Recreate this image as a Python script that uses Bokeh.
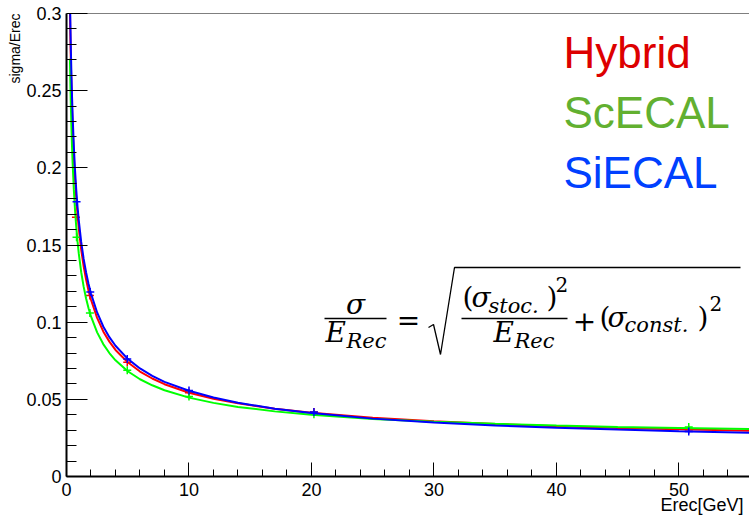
from bokeh.plotting import figure
from bokeh.models import Range1d, FixedTicker, Label, Span, BoxAnnotation, PolyAnnotation, Title
from bokeh.embed import file_html
from bokeh.resources import INLINE

# ---------------- data ----------------
curve_e = [0.28, 0.32, 0.36, 0.4, 0.45, 0.5, 0.6, 0.7, 0.8, 0.9, 1.0, 1.2, 1.4, 1.6, 1.8,
           2.0, 2.5, 3.0, 3.5, 4.0, 5.0, 6.0, 7.0, 8.0, 10, 12, 14, 17, 20, 25, 30, 35,
           40, 45, 50, 55.8]
hybrid_curve = [0.3028, 0.2833, 0.2672, 0.2536, 0.2392, 0.2270, 0.2074, 0.1922, 0.1799,
                0.1698, 0.1610, 0.1470, 0.1362, 0.1276, 0.1204, 0.1145, 0.1028, 0.0940,
                0.0874, 0.0820, 0.0740, 0.0680, 0.0635, 0.0598, 0.0543, 0.0504, 0.0474,
                0.0439, 0.0413, 0.0381, 0.0358, 0.0340, 0.0326, 0.0315, 0.0306, 0.0297]
scecal_curve = [0.2707, 0.2533, 0.2390, 0.2268, 0.2140, 0.2032, 0.1857, 0.1722, 0.1613,
                0.1523, 0.1447, 0.1324, 0.1230, 0.1153, 0.1090, 0.1037, 0.0934, 0.0858,
                0.0800, 0.0753, 0.0682, 0.0630, 0.0591, 0.0559, 0.0511, 0.0477, 0.0451,
                0.0422, 0.0400, 0.0373, 0.0355, 0.0341, 0.0330, 0.0321, 0.0314, 0.0307]
siecal_curve = [0.3120, 0.2920, 0.2755, 0.2614, 0.2465, 0.2339, 0.2137, 0.1979, 0.1853,
                0.1748, 0.1662, 0.1520, 0.1410, 0.1322, 0.1248, 0.1185, 0.1063, 0.0972,
                0.0903, 0.0847, 0.0762, 0.0700, 0.0652, 0.0613, 0.0556, 0.0512, 0.0478,
                0.0439, 0.0411, 0.0375, 0.0350, 0.0331, 0.0316, 0.0304, 0.0294, 0.0284]

hybrid_pts_e = [0.77, 1.91, 4.96, 10.0, 20.2, 50.8]
hybrid_pts = [0.168, 0.1172, 0.0740, 0.0543, 0.0418, 0.0303]
scecal_pts_e = [0.82, 1.91, 4.96, 10.0, 20.2, 50.8]
scecal_pts = [0.155, 0.106, 0.0688, 0.0519, 0.0403, 0.0320]
siecal_pts_e = [0.82, 1.94, 4.96, 10.0, 20.2, 50.8]
siecal_pts = [0.178, 0.1195, 0.0762, 0.0558, 0.0418, 0.0292]

x_ticks = [0, 10, 20, 30, 40, 50]
x_minor = [2, 4, 6, 8, 12, 14, 16, 18, 22, 24, 26, 28, 32, 34, 36, 38, 42, 44, 46, 48, 52, 54]
y_ticks = [0, 0.05, 0.1, 0.15, 0.2, 0.25, 0.3]
y_tick_labels = ["0", "0.05", "0.1", "0.15", "0.2", "0.25", "0.3"]
y_minor = [0.01, 0.02, 0.03, 0.04, 0.06, 0.07, 0.08, 0.09, 0.11, 0.12, 0.13, 0.14,
           0.16, 0.17, 0.18, 0.19, 0.21, 0.22, 0.23, 0.24, 0.26, 0.27, 0.28, 0.29]

x_title = "Erec[GeV]"
y_title = "sigma/Erec"
names = ["Hybrid", "ScECAL", "SiECAL"]
line_colors = ["#ff0000", "#00ff00", "#0000ff"]
text_colors = ["#dd0000", "#62b030", "#0040ff"]

# ---------------- figure ----------------
X_MAX = 55.76
p = figure(width=749, height=517, output_backend="svg", toolbar_location=None,
           x_range=Range1d(0, X_MAX), y_range=Range1d(0, 0.3),
           min_border_left=66, min_border_right=0, min_border_top=13, min_border_bottom=41)
p.outline_line_color = None
p.grid.visible = False
p.background_fill_color = "white"
p.border_fill_color = "white"

# pixel helpers for annotations (frame: left 66, top 13, bottom 476)
X0, SX = 66.0, 683.0 / X_MAX
Y0, SY = 476.0, 463.0 / 0.3
def dx(px):
    return (px - X0) / SX
def dy(py):
    return (Y0 - py) / SY

for ax in (p.xaxis[0], p.yaxis[0]):
    ax.axis_line_width = 2
    ax.axis_line_color = "black"
    ax.major_tick_out = 0
    ax.minor_tick_out = 0
    ax.major_tick_line_color = "black"
    ax.minor_tick_line_color = "black"
    ax.major_label_text_font = "Liberation Sans"
    ax.major_label_text_font_size = "18px"
    ax.major_label_text_color = "black"

p.xaxis.ticker = FixedTicker(ticks=x_ticks, minor_ticks=x_minor)
p.xaxis.major_tick_in = 14
p.xaxis.minor_tick_in = 7
p.xaxis.major_label_standoff = 6
p.xaxis.major_label_overrides = {t: str(t) for t in x_ticks}

p.yaxis.ticker = FixedTicker(ticks=y_ticks, minor_ticks=y_minor)
p.yaxis.major_tick_in = 21
p.yaxis.minor_tick_in = 10
p.yaxis.major_label_standoff = 5
p.yaxis.major_label_overrides = dict(zip(y_ticks, y_tick_labels))

# axis titles as side-panel titles (right / top aligned like ROOT)
p.add_layout(Title(text=x_title, align="right", vertical_align="middle",
                   text_font="Liberation Sans", text_font_size="18px",
                   text_font_style="normal", text_color="black",
                   standoff=-10, offset=6), "below")
p.add_layout(Title(text=y_title, align="right", vertical_align="middle",
                   text_font="Liberation Sans", text_font_size="14px",
                   text_font_style="normal", text_color="black",
                   standoff=0, offset=0), "left")

# top frame line
p.add_layout(Span(location=0.3, dimension="width", line_color="black", line_width=1))

# ---------------- curves and points ----------------
curves = [hybrid_curve, scecal_curve, siecal_curve]
pts_e = [hybrid_pts_e, scecal_pts_e, siecal_pts_e]
pts = [hybrid_pts, scecal_pts, siecal_pts]
for c, ce, pe, pv in zip(line_colors, curves, pts_e, pts):
    p.line(curve_e, ce, line_color=c, line_width=2)
    p.scatter(pe, pv, marker="cross", size=8, line_color=c, line_width=1.5)

# text placement helper: py is the wanted baseline in pixels
SHIFT = 0.35
def T(px, py, text, size, font, color="black", italic=False, align="left"):
    p.add_layout(Label(x=dx(px), y=dy(py - SHIFT * size), text=text, text_font=font,
                       text_font_size=f"{size}px",
                       text_font_style="italic" if italic else "normal",
                       text_align=align, text_baseline="alphabetic", text_color=color))

# ---------------- legend texts ----------------
for name, col, base in zip(names, text_colors, [67, 127, 187]):
    T(563, base, name, 44, "Liberation Sans", col)

# ---------------- formula ----------------
FF = "DejaVu Serif"
def bar(x1, x2, py):
    p.add_layout(BoxAnnotation(left=dx(x1), right=dx(x2), top=dy(py - 0.7), bottom=dy(py + 0.7),
                               fill_color="black", fill_alpha=1, line_color=None))

# left fraction
T(355, 314, "σ", 28, FF, italic=True, align="center")
bar(324, 386, 318)
T(325, 342, "E", 28, FF, italic=True)
T(346, 348, "Rec", 21, FF, italic=True)
# equals
T(408, 330, "=", 28, FF, align="center")
# radical
rx = [428, 433, 440, 454, 740, 454, 440, 433]
ry = [327, 324, 354, 267, 267, 267, 354, 324]
p.add_layout(PolyAnnotation(xs=[dx(v) for v in rx], ys=[dy(v) for v in ry],
                            fill_alpha=0, line_color="black", line_alpha=1, line_width=1.3))
# inner fraction numerator
T(462, 307, "(", 28, FF)
T(471, 307, "σ", 28, FF, italic=True)
T(488, 313, "stoc.", 21, FF, italic=True)
T(546, 307, ")", 28, FF)
T(555, 291, "2", 20, FF)
bar(461, 567, 318)
T(493, 342, "E", 28, FF, italic=True)
T(514, 348, "Rec", 21, FF, italic=True)
# plus constant term
T(584, 330, "+", 28, FF, align="center")
T(599, 327, "(", 28, FF)
T(607, 327, "σ", 28, FF, italic=True)
T(624, 332, "const.", 21, FF, italic=True)
T(697, 327, ")", 28, FF)
T(709, 310, "2", 20, FF)

open("out.html", "w").write(file_html(p, INLINE))
